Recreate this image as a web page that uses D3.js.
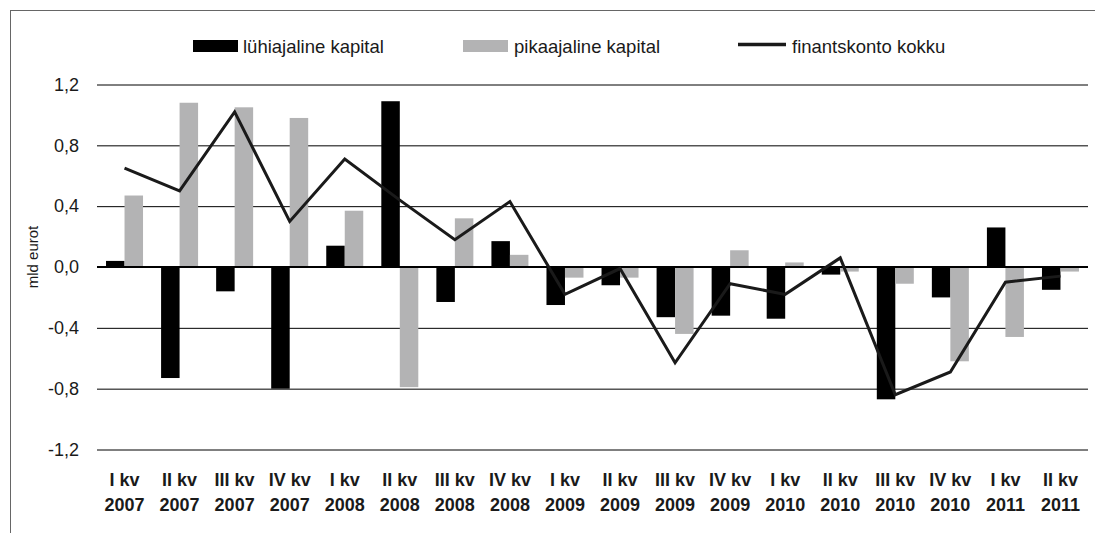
<!DOCTYPE html>
<html>
<head>
<meta charset="utf-8">
<script src="https://cdn.jsdelivr.net/npm/d3@7"></script>
<style>
  html, body { margin: 0; padding: 0; background: #fff; }
  svg { display: block; }
  text { font-family: "Liberation Sans", Arial, Helvetica, sans-serif; fill: #1a1a1a; }
</style>
</head>
<body>
<svg id="chart" width="1095" height="533"></svg>
<script>
// ---- Data ----
const quarters = ["I kv", "II kv", "III kv", "IV kv", "I kv", "II kv", "III kv", "IV kv", "I kv",
                  "II kv", "III kv", "IV kv", "I kv", "II kv", "III kv", "IV kv", "I kv", "II kv"];
const years = ["2007", "2007", "2007", "2007", "2008", "2008", "2008", "2008", "2009",
               "2009", "2009", "2009", "2010", "2010", "2010", "2010", "2011", "2011"];
const shortTerm = [0.04, -0.73, -0.16, -0.80, 0.14, 1.09, -0.23, 0.17, -0.25,
                   -0.12, -0.33, -0.32, -0.34, -0.05, -0.87, -0.20, 0.26, -0.15];
const longTerm = [0.47, 1.08, 1.05, 0.98, 0.37, -0.79, 0.32, 0.08, -0.07,
                  -0.07, -0.44, 0.11, 0.03, -0.03, -0.11, -0.62, -0.46, -0.03];
const total = [0.65, 0.50, 1.02, 0.30, 0.71, 0.44, 0.18, 0.43, -0.18,
               -0.01, -0.63, -0.11, -0.18, 0.06, -0.84, -0.69, -0.10, -0.06];
const yTicks = [-1.2, -0.8, -0.4, 0.0, 0.4, 0.8, 1.2];
const seriesNames = ["lühiajaline kapital", "pikaajaline kapital", "finantskonto kokku"];
const yTitle = "mld eurot";

// ---- Layout ----
const svg = d3.select("#chart");
const pLeft = 97, pRight = 1088, pTop = 84.5, pBottom = 449.5;
const idx = d3.range(quarters.length);

const x0 = d3.scaleBand().domain(idx).range([pLeft, pRight]).paddingInner(0.328).paddingOuter(0.164);
const x1 = d3.scaleBand().domain(["s", "l"]).range([0, x0.bandwidth()]).padding(0);
const xc = d3.scaleBand().domain(idx).range([pLeft, pRight]).padding(0);
const y = d3.scaleLinear().domain([-1.2, 1.2]).range([pBottom, pTop]);

// frame (top & left)
svg.append("line").attr("x1", 10).attr("x2", 1095).attr("y1", 10.5).attr("y2", 10.5)
  .attr("stroke", "#666").attr("stroke-width", 1);
svg.append("line").attr("x1", 10.5).attr("x2", 10.5).attr("y1", 10).attr("y2", 533)
  .attr("stroke", "#666").attr("stroke-width", 1);

// gridlines + y labels via axis
const yAxis = d3.axisLeft(y).tickValues(yTicks).tickSize(-(pRight - pLeft)).tickPadding(18)
  .tickFormat(d => d3.format(".1f")(d).replace(".", ",").replace("−", "-"));
const gy = svg.append("g").attr("transform", `translate(${pLeft},0)`).call(yAxis);
gy.select(".domain").remove();
gy.selectAll(".tick line").attr("stroke", "#000").attr("stroke-width", 1);
gy.selectAll(".tick text").attr("font-size", 18).attr("fill", "#1a1a1a")
  .style("font-family", "'Liberation Sans', Arial, sans-serif");

// bars
const g = svg.append("g");
g.selectAll("rect.s").data(idx).join("rect").attr("class", "s")
  .attr("x", i => x0(i) + x1("s"))
  .attr("width", x1.bandwidth())
  .attr("y", i => y(Math.max(0, shortTerm[i])))
  .attr("height", i => Math.abs(y(shortTerm[i]) - y(0)))
  .attr("fill", "#000");
g.selectAll("rect.l").data(idx).join("rect").attr("class", "l")
  .attr("x", i => x0(i) + x1("l"))
  .attr("width", x1.bandwidth())
  .attr("y", i => y(Math.max(0, longTerm[i])))
  .attr("height", i => Math.abs(y(longTerm[i]) - y(0)))
  .attr("fill", "#b3b3b4");

// zero line
svg.append("line").attr("x1", pLeft).attr("x2", pRight).attr("y1", y(0)).attr("y2", y(0))
  .attr("stroke", "#000").attr("stroke-width", 2);

// total line
const line = d3.line().x(i => xc(i) + xc.bandwidth() / 2).y(i => y(total[i]));
svg.append("path").datum(idx).attr("d", line).attr("fill", "none")
  .attr("stroke", "#1a1a1a").attr("stroke-width", 3).attr("stroke-linejoin", "miter");

// x labels
const xl = svg.append("g");
idx.forEach(i => {
  const cx = xc(i) + xc.bandwidth() / 2;
  const t = xl.append("text").attr("x", cx).attr("text-anchor", "middle")
    .attr("font-size", 18).attr("font-weight", "bold");
  t.append("tspan").attr("x", cx).attr("y", 486).text(quarters[i]);
  t.append("tspan").attr("x", cx).attr("y", 511).text(years[i]);
});

// y title
svg.append("text").attr("transform", "translate(38,257) rotate(-90)")
  .attr("text-anchor", "middle").attr("font-size", 15).text(yTitle);

// legend
const lg = svg.append("g");
lg.append("rect").attr("x", 193).attr("y", 40).attr("width", 45).attr("height", 12).attr("fill", "#000");
lg.append("text").attr("x", 243).attr("y", 52.5).attr("font-size", 18.5).text(seriesNames[0]);
lg.append("rect").attr("x", 463).attr("y", 40).attr("width", 45).attr("height", 12).attr("fill", "#b3b3b4");
lg.append("text").attr("x", 514).attr("y", 52.5).attr("font-size", 18.5).text(seriesNames[1]);
lg.append("line").attr("x1", 738).attr("x2", 786).attr("y1", 44.5).attr("y2", 44.5)
  .attr("stroke", "#1a1a1a").attr("stroke-width", 3.5);
lg.append("text").attr("x", 792).attr("y", 52.5).attr("font-size", 18.5).text(seriesNames[2]);
</script>
</body>
</html>
